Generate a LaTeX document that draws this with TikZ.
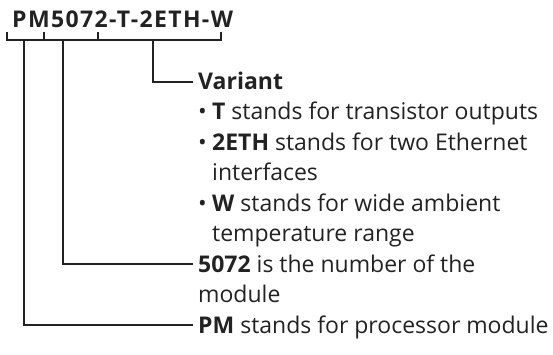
\documentclass[tikz,border=0pt]{standalone}
\usepackage{fontspec}
\setmainfont{Open Sans}
\newfontfamily\ttlfont[LetterSpace=6]{Open Sans}
\definecolor{txt}{HTML}{222222}
\tikzset{
  lbl/.style={anchor=base west, inner sep=0pt, font=\fontsize{23}{26}\selectfont, text=txt},
  ttl/.style={anchor=base west, inner sep=0pt, font=\fontsize{23}{26}\selectfont\ttlfont\bfseries, text=txt},
  conn/.style={line width=1.8pt, draw=txt},
}
\begin{document}
\begin{tikzpicture}[x=1pt,y=-1pt]
\useasboundingbox (0,0) rectangle (553,354);
\node[ttl] (title) at (12,27) {PM5072-T-2ETH-W};
% bracket
\coordinate (bL) at (7,32);
\coordinate (bR) at (221,32);
\coordinate (k1) at (44,32);
\coordinate (k2) at (98,32);
\coordinate (dPM) at (24,40);
\coordinate (dNum) at (63,40);
\coordinate (dVar) at (153,40);
\draw[conn] (bL) |- (bR |- dPM) -- (bR);
\draw[conn] (k1) -- (k1 |- dPM);
\draw[conn] (k2) -- (k2 |- dPM);
% texts
\def\bx{198}
\def\ix{212}
\node[lbl] (var) at (\bx,89) {\textbf{Variant}};
\node[lbl] (bT) at (\bx,119.5) {•};
\node[lbl] (t1) at (\ix,119.5) {\textbf{T} stands for transistor outputs};
\node[lbl] (bE) at (\bx,150) {•};
\node[lbl] (t2) at (\ix,150) {\textbf{2ETH} stands for two Ethernet};
\node[lbl] (t2b) at (\ix,180.5) {interfaces};
\node[lbl] (bW) at (\bx,211) {•};
\node[lbl] (t3) at (\ix,211) {\textbf{W} stands for wide ambient};
\node[lbl] (t3b) at (\ix,241.5) {temperature range};
\node[lbl] (num) at (\bx,272) {\textbf{5072} is the number of the};
\node[lbl] (numb) at (\bx,302.5) {module};
\node[lbl] (pm) at (\bx,333) {\textbf{PM} stands for processor module};
% connectors
\draw[conn] (dVar) |- ([xshift=-5pt,yshift=7pt]var.base west);
\draw[conn] (dNum) |- ([xshift=-5pt,yshift=8pt]num.base west);
\draw[conn] (dPM) |- ([xshift=-5pt,yshift=8pt]pm.base west);
\end{tikzpicture}
\end{document}
